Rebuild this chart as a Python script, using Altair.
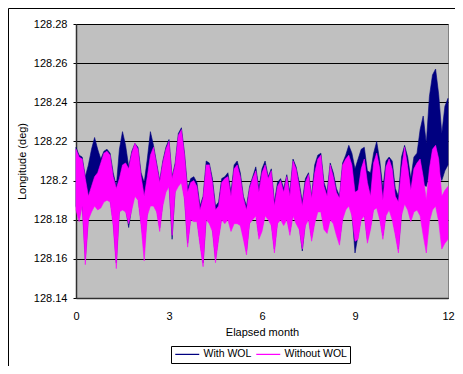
import altair as alt
import pandas as pd

# sample times (elapsed month), 0.1-month spacing
months = [0.0, 0.1, 0.2, 0.3, 0.4, 0.5, 0.6, 0.7, 0.8, 0.9,
          1.0, 1.1, 1.2, 1.3, 1.4, 1.5, 1.6, 1.7, 1.8, 1.9,
          2.0, 2.1, 2.2, 2.3, 2.4, 2.5, 2.6, 2.7, 2.8, 2.9,
          3.0, 3.1, 3.2, 3.3, 3.4, 3.5, 3.6, 3.7, 3.8, 3.9,
          4.0, 4.1, 4.2, 4.3, 4.4, 4.5, 4.6, 4.7, 4.8, 4.9,
          5.0, 5.1, 5.2, 5.3, 5.4, 5.5, 5.6, 5.7, 5.8, 5.9,
          6.0, 6.1, 6.2, 6.3, 6.4, 6.5, 6.6, 6.7, 6.8, 6.9,
          7.0, 7.1, 7.2, 7.3, 7.4, 7.5, 7.6, 7.7, 7.8, 7.9,
          8.0, 8.1, 8.2, 8.3, 8.4, 8.5, 8.6, 8.7, 8.8, 8.9,
          9.0, 9.1, 9.2, 9.3, 9.4, 9.5, 9.6, 9.7, 9.8, 9.9,
          10.0, 10.1, 10.2, 10.3, 10.4, 10.5, 10.6, 10.7, 10.8, 10.9,
          11.0, 11.1, 11.2, 11.3, 11.4, 11.5, 11.6, 11.7, 11.8, 11.9,
          12.0]

# "With WOL": upper / lower envelope of the daily oscillation
with_hi = [128.217, 128.213, 128.212, 128.202, 128.208, 128.216, 128.222, 128.216, 128.211, 128.215,
           128.216, 128.214, 128.204, 128.197, 128.216, 128.225, 128.218, 128.207, 128.215, 128.219,
           128.217, 128.204, 128.199, 128.211, 128.225, 128.218, 128.209, 128.200, 128.210, 128.217,
           128.221, 128.202, 128.209, 128.224, 128.227, 128.214, 128.196, 128.201, 128.202, 128.199,
           128.187, 128.192, 128.210, 128.209, 128.201, 128.187, 128.189, 128.201, 128.202, 128.204,
           128.194, 128.208, 128.210, 128.204, 128.192, 128.187, 128.197, 128.202, 128.207, 128.196,
           128.206, 128.210, 128.202, 128.206, 128.189, 128.199, 128.201, 128.196, 128.203, 128.194,
           128.211, 128.207, 128.199, 128.189, 128.201, 128.204, 128.192, 128.208, 128.213, 128.214,
           128.199, 128.194, 128.209, 128.204, 128.196, 128.192, 128.209, 128.213, 128.218, 128.214,
           128.206, 128.211, 128.216, 128.217, 128.205, 128.204, 128.214, 128.220, 128.210, 128.196,
           128.210, 128.212, 128.210, 128.196, 128.192, 128.212, 128.218, 128.212, 128.201, 128.212,
           128.214, 128.226, 128.233, 128.219, 128.243, 128.254, 128.257, 128.244, 128.224, 128.238,
           128.242]
with_lo = [128.187, 128.181, 128.189, 128.160, 128.182, 128.186, 128.189, 128.187, 128.188, 128.191,
           128.192, 128.191, 128.179, 128.158, 128.186, 128.187, 128.186, 128.176, 128.187, 128.194,
           128.192, 128.179, 128.166, 128.184, 128.189, 128.189, 128.186, 128.176, 128.189, 128.196,
           128.199, 128.170, 128.196, 128.199, 128.201, 128.192, 128.168, 128.182, 128.181, 128.181,
           128.169, 128.158, 128.182, 128.180, 128.176, 128.160, 128.172, 128.182, 128.180, 128.182,
           128.176, 128.180, 128.180, 128.179, 128.172, 128.164, 128.180, 128.182, 128.184, 128.172,
           128.176, 128.184, 128.182, 128.179, 128.165, 128.180, 128.182, 128.179, 128.182, 128.174,
           128.184, 128.180, 128.177, 128.164, 128.179, 128.182, 128.171, 128.180, 128.186, 128.186,
           128.177, 128.175, 128.182, 128.180, 128.174, 128.169, 128.182, 128.187, 128.189, 128.184,
           128.163, 128.172, 128.182, 128.184, 128.170, 128.177, 128.187, 128.188, 128.182, 128.172,
           128.184, 128.187, 128.182, 128.174, 128.165, 128.184, 128.190, 128.187, 128.181, 128.186,
           128.187, 128.200, 128.198, 128.197, 128.203, 128.208, 128.210, 128.205, 128.200, 128.205,
           128.208]

# "Without WOL": upper / lower envelope of the daily oscillation
without_hi = [128.216, 128.212, 128.211, 128.201, 128.192, 128.197, 128.202, 128.204, 128.209, 128.214,
              128.215, 128.213, 128.202, 128.196, 128.201, 128.208, 128.209, 128.206, 128.214, 128.219,
              128.216, 128.202, 128.192, 128.202, 128.213, 128.217, 128.208, 128.199, 128.209, 128.216,
              128.220, 128.201, 128.208, 128.223, 128.226, 128.213, 128.194, 128.199, 128.200, 128.197,
              128.185, 128.191, 128.208, 128.208, 128.199, 128.185, 128.187, 128.199, 128.201, 128.202,
              128.192, 128.206, 128.208, 128.202, 128.191, 128.185, 128.196, 128.201, 128.205, 128.194,
              128.204, 128.208, 128.201, 128.205, 128.187, 128.197, 128.200, 128.194, 128.202, 128.192,
              128.210, 128.206, 128.197, 128.187, 128.199, 128.203, 128.191, 128.204, 128.211, 128.213,
              128.197, 128.192, 128.208, 128.202, 128.194, 128.191, 128.208, 128.211, 128.213, 128.208,
              128.194, 128.195, 128.206, 128.211, 128.199, 128.192, 128.209, 128.214, 128.206, 128.190,
              128.207, 128.211, 128.206, 128.192, 128.189, 128.206, 128.217, 128.207, 128.195, 128.206,
              128.209, 128.211, 128.202, 128.190, 128.206, 128.216, 128.218, 128.211, 128.192, 128.195,
              128.197]
without_lo = [128.185, 128.179, 128.187, 128.157, 128.180, 128.184, 128.187, 128.185, 128.186, 128.189,
              128.190, 128.189, 128.177, 128.155, 128.184, 128.185, 128.184, 128.178, 128.185, 128.192,
              128.190, 128.177, 128.159, 128.182, 128.187, 128.187, 128.184, 128.174, 128.187, 128.194,
              128.197, 128.172, 128.194, 128.197, 128.199, 128.190, 128.166, 128.180, 128.179, 128.179,
              128.167, 128.156, 128.180, 128.178, 128.174, 128.158, 128.170, 128.180, 128.178, 128.180,
              128.174, 128.178, 128.178, 128.177, 128.170, 128.162, 128.178, 128.180, 128.182, 128.170,
              128.174, 128.182, 128.180, 128.177, 128.163, 128.178, 128.180, 128.177, 128.180, 128.172,
              128.182, 128.178, 128.175, 128.165, 128.177, 128.180, 128.169, 128.178, 128.184, 128.184,
              128.175, 128.173, 128.180, 128.178, 128.172, 128.167, 128.180, 128.185, 128.187, 128.182,
              128.169, 128.170, 128.180, 128.182, 128.168, 128.175, 128.185, 128.186, 128.180, 128.170,
              128.182, 128.185, 128.180, 128.172, 128.163, 128.182, 128.188, 128.185, 128.179, 128.184,
              128.185, 128.182, 128.172, 128.163, 128.179, 128.185, 128.187, 128.179, 128.165, 128.168,
              128.170]

series_names = ["With WOL", "Without WOL"]
series_colors = ["#000080", "#FF00FF"]
y_ticks = [128.14, 128.16, 128.18, 128.2, 128.22, 128.24, 128.26, 128.28]
x_ticks = [0, 3, 6, 9, 12]

rows = []
for name, hi, lo in [(series_names[0], with_hi, with_lo), (series_names[1], without_hi, without_lo)]:
    for m, h, l in zip(months, hi, lo):
        rows.append({"month": m, "hi": h, "lo": l, "series": name})
df = pd.DataFrame(rows)

FONT = "Liberation Sans"
cscale = alt.Scale(domain=series_names, range=series_colors)
legend = alt.Legend(
    title=None, orient="none", legendX=95, legendY=322, direction="horizontal",
    symbolType="M-3,0H3", symbolSize=64, symbolStrokeWidth=1.2, symbolOffset=8,
    labelFont=FONT, labelFontSize=10.5, labelColor="black", labelOffset=11,
    strokeColor="black", fillColor="white", padding=3, columnPadding=1,
)

area = alt.Chart(df).mark_area(strokeWidth=0.6, interpolate="linear").encode(
    x=alt.X("month:Q", scale=alt.Scale(domain=[0, 12], nice=False, zero=False),
            axis=alt.Axis(values=x_ticks, format="d", title="Elapsed month", grid=False,
                          ticks=False, labelPadding=12, titlePadding=5, labelFlush=False,
                          domainColor="#303030", domainWidth=1.5)),
    y=alt.Y("hi:Q", scale=alt.Scale(domain=[128.14, 128.28], nice=False, zero=False),
            axis=alt.Axis(values=y_ticks, format=".2~f", title="Longitude (deg)", grid=True,
                          gridColor="black", gridWidth=1, tickSize=3, tickColor="black",
                          labelPadding=6, titlePadding=6, labelFlush=False,
                          domainColor="#303030", domainWidth=1.5)),
    y2="lo:Q",
    color=alt.Color("series:N", scale=cscale, legend=legend),
    stroke=alt.Stroke("series:N", scale=cscale, legend=legend),
)

frame_df = pd.DataFrame({"k": [0]})
left_border = alt.Chart(frame_df).mark_rule(color="black", strokeWidth=1).encode(
    x=alt.value(-67.5), y=alt.value(-15.5), y2=alt.value(342))
top_border = alt.Chart(frame_df).mark_rule(color="black", strokeWidth=1).encode(
    x=alt.value(-67.5), x2=alt.value(379), y=alt.value(-15.5))

chart = alt.layer(area, left_border, top_border).properties(
    width=372, height=274,
    autosize=alt.AutoSizeParams(type="none"),
    padding={"left": 68, "top": 16, "right": 7, "bottom": 68},
).configure_view(
    fill="#C0C0C0", stroke="#808080", strokeWidth=1,
).configure_axis(
    labelFont=FONT, labelFontSize=11, labelColor="black",
    titleFont=FONT, titleFontSize=11, titleFontWeight="normal", titleColor="black",
)

chart.save("out.html", embed_options={"renderer": "svg", "actions": False})
